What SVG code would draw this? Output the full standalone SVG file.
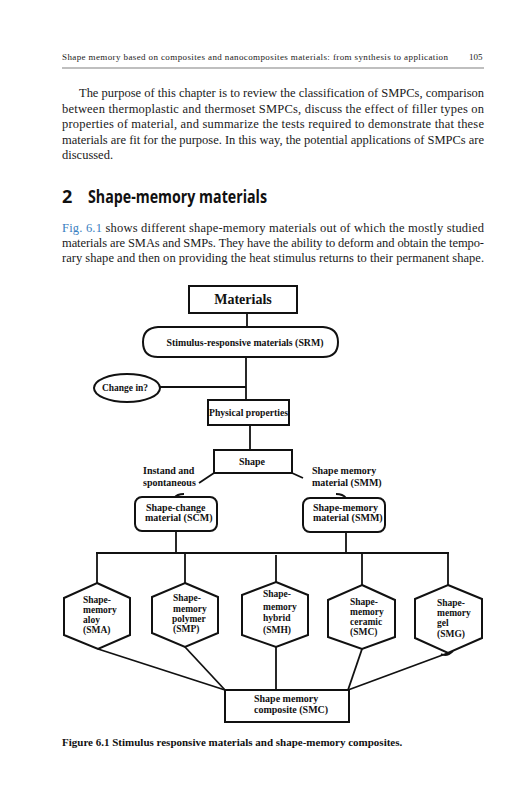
<svg xmlns="http://www.w3.org/2000/svg" width="531" height="800" viewBox="0 0 531 800">
<style>
.hdr{font-family:"Liberation Serif",serif;font-size:9px;fill:#222}
.body{font-family:"Liberation Serif",serif;font-size:12.5px;fill:#1a1a1a}
.h2{font-family:"Open Sans","Noto Sans",sans-serif;font-size:18px;font-weight:bold;fill:#111}
.lbl{font-family:"Liberation Serif",serif;font-weight:bold;fill:#111;font-size:10px}
.hx{font-size:9.5px}
.big{font-size:14px}
.box{fill:#fff;stroke:#111;stroke-width:2}
.ln{fill:none;stroke:#111;stroke-width:1.8}
.cap{font-family:"Liberation Serif",serif;font-weight:bold;font-size:11px;fill:#111}
.link{fill:#3a7fc1}
</style>
<rect width="531" height="800" fill="#fff"/>
<text class="hdr" x="62" y="60" textLength="386" lengthAdjust="spacing">Shape memory based on composites and nanocomposites materials: from synthesis to application</text>
<text class="hdr" x="469" y="60">105</text>
<line x1="62" y1="68" x2="484" y2="68" stroke="#aaa" stroke-width="1.5"/>
<g id="para1">
<text class="body" x="79" y="97" textLength="405" lengthAdjust="spacing">The purpose of this chapter is to review the classification of SMPCs, comparison</text>
<text class="body" x="62" y="112.5" textLength="422" lengthAdjust="spacing">between thermoplastic and thermoset SMPCs, discuss the effect of filler types on</text>
<text class="body" x="62" y="128" textLength="422" lengthAdjust="spacing">properties of material, and summarize the tests required to demonstrate that these</text>
<text class="body" x="62" y="143.5" textLength="422" lengthAdjust="spacing">materials are fit for the purpose. In this way, the potential applications of SMPCs are</text>
<text class="body" x="62" y="159">discussed.</text>
</g>
<text class="h2" x="62" y="203">2</text>
<text class="h2" x="88" y="203" textLength="179" lengthAdjust="spacingAndGlyphs">Shape-memory materials</text>
<g id="para2">
<text class="body" x="62" y="232" textLength="422" lengthAdjust="spacing"><tspan class="link">Fig. 6.1</tspan> shows different shape-memory materials out of which the mostly studied</text>
<text class="body" x="62" y="247" textLength="422" lengthAdjust="spacing">materials are SMAs and SMPs. They have the ability to deform and obtain the tempo-</text>
<text class="body" x="62" y="262" textLength="422" lengthAdjust="spacing">rary shape and then on providing the heat stimulus returns to their permanent shape.</text>
</g>
<g id="connectors">
<line class="ln" x1="247" y1="313" x2="247" y2="327"/>
<line class="ln" x1="246" y1="357" x2="246" y2="400"/>
<line class="ln" x1="160" y1="387" x2="246" y2="387"/>
<line class="ln" x1="250" y1="425" x2="250" y2="450"/>
<line class="ln" x1="214" y1="473" x2="199" y2="483"/>
<line class="ln" x1="292" y1="473" x2="303" y2="478"/>
<path class="ln" d="M174,498 Q177,494 184,494"/>
<path class="ln" d="M336,494 Q343,494 346,498"/>
<line class="ln" x1="176" y1="531" x2="176" y2="553"/>
<line class="ln" x1="346" y1="532" x2="346" y2="553"/>
<line class="ln" x1="96" y1="553" x2="449" y2="553"/>
<line class="ln" x1="97" y1="553" x2="97" y2="583"/>
<line class="ln" x1="185" y1="553" x2="185" y2="583"/>
<line class="ln" x1="276" y1="555" x2="276" y2="582"/>
<line class="ln" x1="362" y1="553" x2="362" y2="585"/>
<line class="ln" x1="448" y1="553" x2="448" y2="585"/>
<line class="ln" x1="98" y1="649" x2="225" y2="690"/>
<line class="ln" x1="185" y1="647" x2="225" y2="690"/>
<line class="ln" x1="276" y1="647" x2="276" y2="690"/>
<line class="ln" x1="362" y1="649" x2="348" y2="690"/>
<line class="ln" x1="448" y1="653" x2="348" y2="690"/>
<path class="ln" d="M441,654 Q447,657 453,651"/>
</g>
<g id="materials">
<rect class="box" x="189" y="286" width="108" height="27"/>
<text class="lbl big" x="243" y="304" text-anchor="middle">Materials</text>
</g>
<g id="srm">
<path class="box" d="M158,327 L323,327 Q338,328 338,342 Q338,357 323,357 L158,357 Q143,357 143,342 Q143,328 158,327 Z"/>
<text class="lbl" x="245" y="346" text-anchor="middle" textLength="157" lengthAdjust="spacingAndGlyphs">Stimulus-responsive materials (SRM)</text>
</g>
<g id="change">
<ellipse class="box" cx="127" cy="388" rx="33" ry="14"/>
<text class="lbl" x="125" y="391" text-anchor="middle" textLength="46" lengthAdjust="spacingAndGlyphs">Change in?</text>
</g>
<g id="physical">
<rect class="box" x="208" y="400" width="81" height="25"/>
<text class="lbl" x="248.5" y="416" text-anchor="middle" textLength="79" lengthAdjust="spacingAndGlyphs">Physical properties</text>
</g>
<g id="shape">
<rect class="box" x="214" y="450" width="78" height="23"/>
<text class="lbl" x="252" y="465" text-anchor="middle">Shape</text>
</g>
<g id="lbl-instant">
<text class="lbl" x="143" y="474">Instand and</text>
<text class="lbl" x="143" y="486">spontaneous</text>
</g>
<g id="lbl-smm">
<text class="lbl" x="312" y="474">Shape memory</text>
<text class="lbl" x="312" y="486">material (SMM)</text>
</g>
<g id="scm">
<rect class="box" x="135" y="497" width="82" height="34" rx="7"/>
<text class="lbl" x="146" y="511">Shape-change</text>
<text class="lbl" x="145" y="521">material (SCM)</text>
</g>
<g id="smm">
<rect class="box" x="303" y="498" width="82" height="34" rx="7"/>
<text class="lbl" x="313" y="511">Shape-memory</text>
<text class="lbl" x="313" y="521">material (SMM)</text>
</g>
<g id="sma">
<polygon class="box" points="97,583 130,598 130,635 98,649 64,635 64,598"/>
<text class="lbl hx" x="83" y="603">Shape-</text>
<text class="lbl hx" x="83" y="613">memory</text>
<text class="lbl hx" x="83" y="623">aloy</text>
<text class="lbl hx" x="83" y="633">(SMA)</text>
</g>
<g id="smp">
<polygon class="box" points="185,583 218,597 218,633 185,647 152,633 152,597"/>
<text class="lbl hx" x="173" y="601">Shape-</text>
<text class="lbl hx" x="173" y="612">memory</text>
<text class="lbl hx" x="172" y="622">polymer</text>
<text class="lbl hx" x="173" y="632">(SMP)</text>
</g>
<g id="smh">
<polygon class="box" points="276,582 308,595 308,635 276,647 242,635 242,595"/>
<text class="lbl hx" x="263" y="597">Shape-</text>
<text class="lbl hx" x="263" y="610">memory</text>
<text class="lbl hx" x="263" y="621">hybrid</text>
<text class="lbl hx" x="263" y="633">(SMH)</text>
</g>
<g id="smc">
<polygon class="box" points="362,585 395,600 395,637 362,649 328,637 328,600"/>
<text class="lbl hx" x="350" y="605">Shape-</text>
<text class="lbl hx" x="350" y="615">memory</text>
<text class="lbl hx" x="350" y="625">ceramic</text>
<text class="lbl hx" x="350" y="635">(SMC)</text>
</g>
<g id="smg">
<polygon class="box" points="448,585 482,599 482,638 448,653 415,638 415,599"/>
<text class="lbl hx" x="437" y="606">Shape-</text>
<text class="lbl hx" x="437" y="616">memory</text>
<text class="lbl hx" x="437" y="626">gel</text>
<text class="lbl hx" x="437" y="637">(SMG)</text>
</g>
<g id="composite">
<rect class="box" x="225" y="690" width="124" height="32"/>
<text class="lbl" x="254" y="702">Shape memory</text>
<text class="lbl" x="254" y="713">composite (SMC)</text>
</g>
<text class="cap" x="62" y="746">Figure 6.1  Stimulus responsive materials and shape-memory composites.</text>
</svg>
